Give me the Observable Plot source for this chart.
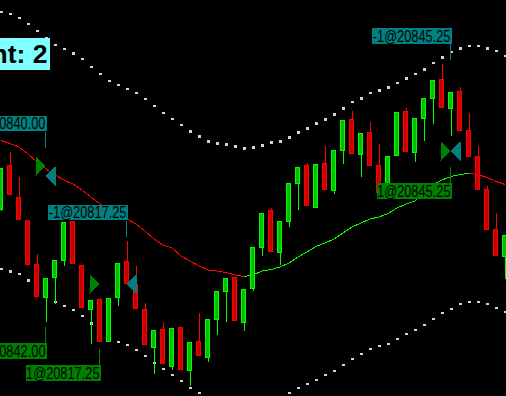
<!DOCTYPE html>
<html><head><meta charset="utf-8">
<script src="https://cdn.jsdelivr.net/npm/d3@7"></script>
<script src="https://cdn.jsdelivr.net/npm/@observablehq/plot@0.6"></script>
<style>
html,body{margin:0;padding:0;background:#000;overflow:hidden;}
#chart svg{display:block;}
</style></head><body><div id="chart"></div>
<script>
// ---- candle data (bar index 0..56) ----
const open = [20847.75,20858.75,20850.75,20845,20834,20825.75,20830.75,20835,20844.75,20833.75,
  20822.75,20825.25,20814.75,20825.75,20834.75,20829,20822.75,20813.25,20817.75,20808.5,
  20818.25,20807.5,20814.75,20810.75,20820.25,20827.25,20830.75,20819.5,20828,20838.25,
  20847.5,20837,20844.75,20854.25,20858.75,20848.25,20859.25,20852.5,20862.5,20870.25,
  20861.5,20867,20858.75,20851.25,20861.25,20872.25,20862,20870.5,20875.5,20880.25,
  20873,20877.25,20867.5,20861,20852.75,20842.75,20836];
const high = [20858,20862.25,20856,20845,20836.75,20830.5,20835,20844.5,20845,20834,
  20825,20825.75,20825.5,20834.25,20840,20833.75,20824.5,20817.5,20819.75,20818,
  20818.25,20814.5,20822,20820.25,20827.25,20830.5,20830.75,20827.75,20838.25,20846.75,
  20848.25,20844.75,20854.25,20858.25,20859.5,20859,20863.75,20862.5,20870,20872.5,
  20866.75,20869.75,20864.25,20861,20872,20873.25,20870.5,20875.5,20880,20884.25,
  20877,20878.5,20872,20863.75,20853.75,20847,20841.25];
const low = [20847.5,20851.5,20845.25,20834,20826,20819.75,20824.25,20833.75,20834.25,20823.25,
  20814.25,20814.75,20814.75,20823.75,20829.25,20823,20814,20806.75,20809.25,20807.75,
  20807.75,20803.75,20811.25,20809.75,20816.5,20819.75,20820,20817.5,20827.5,20836.25,
  20837.25,20834,20843.5,20847.75,20848.75,20848.25,20852.75,20851.75,20859.25,20861.75,
  20856,20858.75,20852,20850.5,20861.25,20862.25,20859.75,20865,20869.25,20873.25,
  20866.25,20867.5,20861,20852.75,20842.75,20836.25,20830.5];
const close = [20858,20851.5,20845.25,20834,20826,20830.5,20835,20844.5,20834.25,20823.25,
  20825,20814.75,20825.5,20834.25,20829.25,20823,20814,20817.5,20809.25,20818,
  20807.75,20814.5,20811.25,20820.25,20827.25,20830.5,20820,20827.75,20838.25,20846.75,
  20837.25,20844.75,20854.25,20858.25,20848.75,20859,20852.75,20862.5,20870,20861.75,
  20866.75,20858.75,20852,20861,20872,20862.25,20870.5,20875.5,20880,20873.25,
  20877,20867.5,20861,20852.75,20842.75,20836.25,20841.25];

// ---- moving average and envelope bands ----
const maLine = [20865.13,20864.38,20863.5,20861.75,20859.75,20858,20856.5,20855.25,20854.25,20852.75,
  20851,20849.25,20848.25,20847,20845.5,20844.25,20842.5,20840.5,20839,20838.25,
  20836.25,20835,20833.75,20832.75,20832.5,20832.13,20831.5,20831.13,20831.5,20832.5,
  20832.88,20833.5,20834.5,20836,20837.25,20838.63,20839.5,20840.5,20842,20843.5,
  20844.5,20845.5,20846,20846.88,20848.25,20849.25,20850,20852,20854,20855.25,
  20856.13,20856.63,20856.93,20856.63,20855.88,20854.88,20854.13];
const upperBand = [20897.33,20896.83,20895.83,20894.33,20892.58,20890.75,20889.08,20888.08,20887,20885.58,
  20883.58,20881.83,20880.08,20879.08,20878.08,20877.08,20875.58,20873.83,20872.08,20870.58,
  20869.08,20867.5,20866.25,20865,20864.5,20864.25,20863.75,20863.25,20863.5,20864,
  20864.75,20865,20866,20867.25,20868.25,20869.5,20870.5,20871.75,20873.25,20874.83,
  20875.75,20877.08,20877.75,20878.5,20879.58,20880.75,20881.83,20883,20884.58,20886,
  20887.33,20888.25,20888.83,20888.83,20888.25,20887.58,20886.43];
const lowerBand = [20833.08,20832.5,20831.83,20830.25,20828.58,20826.5,20824.83,20823.83,20822.83,20821.33,
  20819.5,20817.58,20815.83,20814.83,20814.08,20812.83,20811.33,20809.58,20808.08,20806.58,
  20805.08,20803.33,20802.08,20800.75,20800.25,20800,20799.5,20799.25,20799.5,20800,
  20800.25,20800.75,20802.08,20803.33,20804.33,20805.33,20806.58,20807.58,20809.08,20810.58,
  20811.83,20813.08,20813.83,20814.33,20815.58,20816.83,20817.83,20819.08,20820.58,20822.08,
  20823.08,20824.33,20824.83,20824.83,20824.33,20823.33,20822.33];

// ---- trade arrows ----
const markerBar = [5, 5, 11, 14, 50, 50];
const markerPrice = [20858.75, 20856.25, 20829.25, 20829.25, 20862.5, 20862.5];
const markerSide = ["buy", "sell", "buy", "sell", "buy", "sell"];

// ---- trade labels ----
const labelText = ["-1@20840.00", "-1@20817.25", "1@20842.00", "1@20817.25", "-1@20845.25", "1@20845.25"];
const labelBar = [5, 14, 5, 11, 50, 50];
const labelPrice = [20863.33, 20841.08, 20818.5, 20813, 20885.25, 20858.5];

const cornerText = ["nt: 2"];

// ---- derived tables ----
const bars = d3.range(open.length).map(i => ({i, o: open[i], h: high[i], l: low[i], c: close[i], up: close[i] >= open[i]}));
const maSegs = d3.range(maLine.length - 1).map(i => ({i, a: maLine[i], b: maLine[i + 1], rising: maLine[i + 1] > maLine[i]}));
const bandPts = d3.range(upperBand.length).map(i => ({i, u: upperBand[i], d: lowerBand[i]}));
const markers = markerBar.map((k, j) => ({k, p: markerPrice[j], side: markerSide[j]}));
const labels = labelText.map((t, j) => ({t, k: labelBar[j], p: labelPrice[j], sell: t.startsWith("-")}));

const GREEN = "#00ff00", GREEN_FILL = "#00c000", RED = "#ff0000", RED_FILL = "#c80000";
const TEAL = "#008080", DKGREEN = "#008000";

const triRight = {draw(ctx) { ctx.moveTo(0, 0); ctx.lineTo(-10, -9.5); ctx.lineTo(-10, 9.5); ctx.closePath(); }};
const triLeft = {draw(ctx) { ctx.moveTo(0, 0); ctx.lineTo(10, -9.5); ctx.lineTo(10, 9.5); ctx.closePath(); }};
const stemUp = {draw(ctx) { ctx.moveTo(0, 0); ctx.lineTo(0, -16); }};
const stemDown = {draw(ctx) { ctx.moveTo(0, 0); ctx.lineTo(0, 16); }};

const LABEL_FONT = "'Liberation Sans', Arial, sans-serif";

const chart = Plot.plot({
  width: 506, height: 396, margin: 0,
  style: {background: "#000", overflow: "hidden"},
  x: {axis: null, domain: [0, 56], range: [0.5, 504.5]},
  y: {axis: null, domain: [20801, 20900], range: [396.5, 0.5]},
  marks: [
    Plot.dot(bandPts, {x: "i", y: "u", symbol: "square", r: 1.13, fill: "#d3d3d3", stroke: "none", dx: 0.5, dy: 0.5}),
    Plot.dot(bandPts, {x: "i", y: "d", symbol: "square", r: 1.13, fill: "#d3d3d3", stroke: "none", dx: 0.5, dy: 0.5}),
    Plot.link(maSegs, {x1: "i", y1: "a", x2: d => d.i + 1, y2: "b", stroke: d => d.rising ? GREEN : RED, strokeWidth: 1}),
    Plot.ruleX(bars, {x: "i", y1: "l", y2: "h", stroke: d => d.up ? GREEN : RED, strokeWidth: 1}),
    Plot.rect(bars, {x1: d => d.i - 0.5, x2: d => d.i + 0.5, insetLeft: 2.5, insetRight: 2.5, y1: "o", y2: "c",
      fill: d => d.up ? GREEN_FILL : RED_FILL, stroke: d => d.up ? GREEN : RED, strokeWidth: 1}),
    Plot.dot(markers.filter(d => d.side === "buy"), {x: "k", y: "p", symbol: triRight, fill: DKGREEN, stroke: "none", dx: -0.5}),
    Plot.dot(markers.filter(d => d.side === "sell"), {x: "k", y: "p", symbol: triLeft, fill: TEAL, stroke: "none", dx: -0.5}),
    Plot.dot(labels.filter(d => d.sell), {x: "k", y: "p", symbol: stemUp, fill: "none", stroke: TEAL, strokeWidth: 1, dx: -1}),
    Plot.dot(labels.filter(d => !d.sell), {x: "k", y: "p", symbol: stemDown, fill: "none", stroke: DKGREEN, strokeWidth: 1, dx: -1}),
    Plot.text(labels.filter(d => d.sell), {x: "k", y: "p", text: "t", textAnchor: "end", lineAnchor: "bottom", dx: -0.5, dy: -18.3,
      fill: "#000", fontSize: 15.8, fontFamily: LABEL_FONT, ariaDescription: "sell-label"}),
    Plot.text(labels.filter(d => !d.sell), {x: "k", y: "p", text: "t", textAnchor: "end", lineAnchor: "bottom", dx: -0.5, dy: 29.7,
      fill: "#000", fontSize: 15.8, fontFamily: LABEL_FONT, ariaDescription: "buy-label"}),
    Plot.text(cornerText, {text: d => d, frameAnchor: "top-left", textAnchor: "end", lineAnchor: "bottom", dx: 47, dy: 62.3,
      fill: "#000", fontSize: 26.5, fontWeight: "bold", fontFamily: "'Liberation Sans', Arial, sans-serif", ariaDescription: "corner-label"})
  ]
});
document.getElementById("chart").append(chart);
const svg = chart.tagName.toLowerCase() === "svg" ? chart : chart.querySelector("svg");
svg.setAttribute("shape-rendering", "crispEdges");

// the chart's label font is a narrow face: condense the glyphs horizontally
(function () {
  const texts = svg.querySelectorAll('g[aria-description="sell-label"] text, g[aria-description="buy-label"] text');
  const NARROW = 0.81;
  texts.forEach(t => {
    const L = t.getComputedTextLength();
    t.setAttribute("textLength", (L * NARROW).toFixed(2));
    t.setAttribute("lengthAdjust", "spacingAndGlyphs");
  });
})();

// background boxes behind label texts
const NS = "http://www.w3.org/2000/svg";
function boxes(desc, color, padL, padR, padT, padB) {
  const g = svg.querySelector(`g[aria-description="${desc}"]`);
  if (!g) return;
  const base = svg.getBoundingClientRect();
  const bg = document.createElementNS(NS, "g");
  g.querySelectorAll("text").forEach(t => {
    const r = t.getBoundingClientRect();
    const rect = document.createElementNS(NS, "rect");
    const x0 = r.left - base.left - padL, x1 = r.right - base.left + padR;
    const y0 = r.top - base.top - padT, y1 = r.bottom - base.top + padB;
    rect.setAttribute("x", x0); rect.setAttribute("y", y0);
    rect.setAttribute("width", x1 - x0); rect.setAttribute("height", y1 - y0);
    rect.setAttribute("fill", color);
    bg.appendChild(rect);
  });
  g.parentNode.insertBefore(bg, g);
}
boxes("sell-label", TEAL, 0.5, 1, -0.6, -1.1);
boxes("buy-label", DKGREEN, 0.5, 1, -0.6, -1.1);
boxes("corner-label", "#80ffff", 12, 2, 1.3, 1.1);
</script></body></html>
